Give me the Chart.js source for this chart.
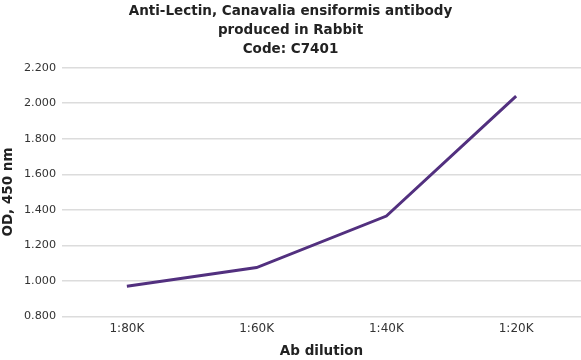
<!DOCTYPE html>
<html><head><meta charset="utf-8">
<script src="https://cdn.jsdelivr.net/npm/chart.js@4/dist/chart.umd.min.js"></script>
<style>html,body{margin:0;padding:0;background:#fff}#c{width:581px;height:360px}</style>
</head><body><div id="c"><canvas id="chart" width="581" height="360"></canvas></div>
<script>
const categories = ["1:80K","1:60K","1:40K","1:20K"];
const odValues = [0.97, 1.075, 1.365, 2.04];
const titleLines = ["Anti-Lectin, Canavalia ensiformis antibody","produced in Rabbit","Code: C7401"];
const yTitle = "OD, 450 nm";
const xTitle = "Ab dilution";

Chart.defaults.font.family = "'DejaVu Sans', Verdana, sans-serif";
new Chart(document.getElementById('chart'), {
  type: 'line',
  data: { labels: categories, datasets: [{ data: odValues, borderColor: '#52307f', borderWidth: 3, pointRadius: 0, tension: 0, fill: false }] },
  options: {
    responsive: false, animation: false,
    layout: { padding: { left: 0, right: 0, top: 2, bottom: 0 } },
    plugins: {
      legend: { display: false }, tooltip: { enabled: false },
      title: { display: true, text: titleLines, color: '#222', font: { size: 13.5, weight: 'bold', lineHeight: 1.4 }, padding: { top: 0, bottom: 9 } }
    },
    scales: {
      x: {
        offset: true,
        grid: { display: false, drawTicks: false },
        border: { display: false },
        ticks: { color: '#333', font: { size: 12 }, padding: 5 },
        title: { display: true, text: xTitle, color: '#222', font: { size: 13.5, weight: 'bold' }, padding: { top: 3, bottom: 0 } }
      },
      y: {
        min: 0.8, max: 2.2,
        afterFit: s => { s.width = 62; },
        grid: { color: '#dcdcdc', lineWidth: 1.5, drawTicks: false },
        border: { display: false },
        ticks: { stepSize: 0.2, color: '#333', font: { size: 11.2 }, padding: 6, callback: v => v.toFixed(3) },
        title: { display: true, text: yTitle, color: '#222', font: { size: 13.5, weight: 'bold' }, padding: { top: 0, bottom: 2 } }
      }
    }
  }
});
</script></body></html>
